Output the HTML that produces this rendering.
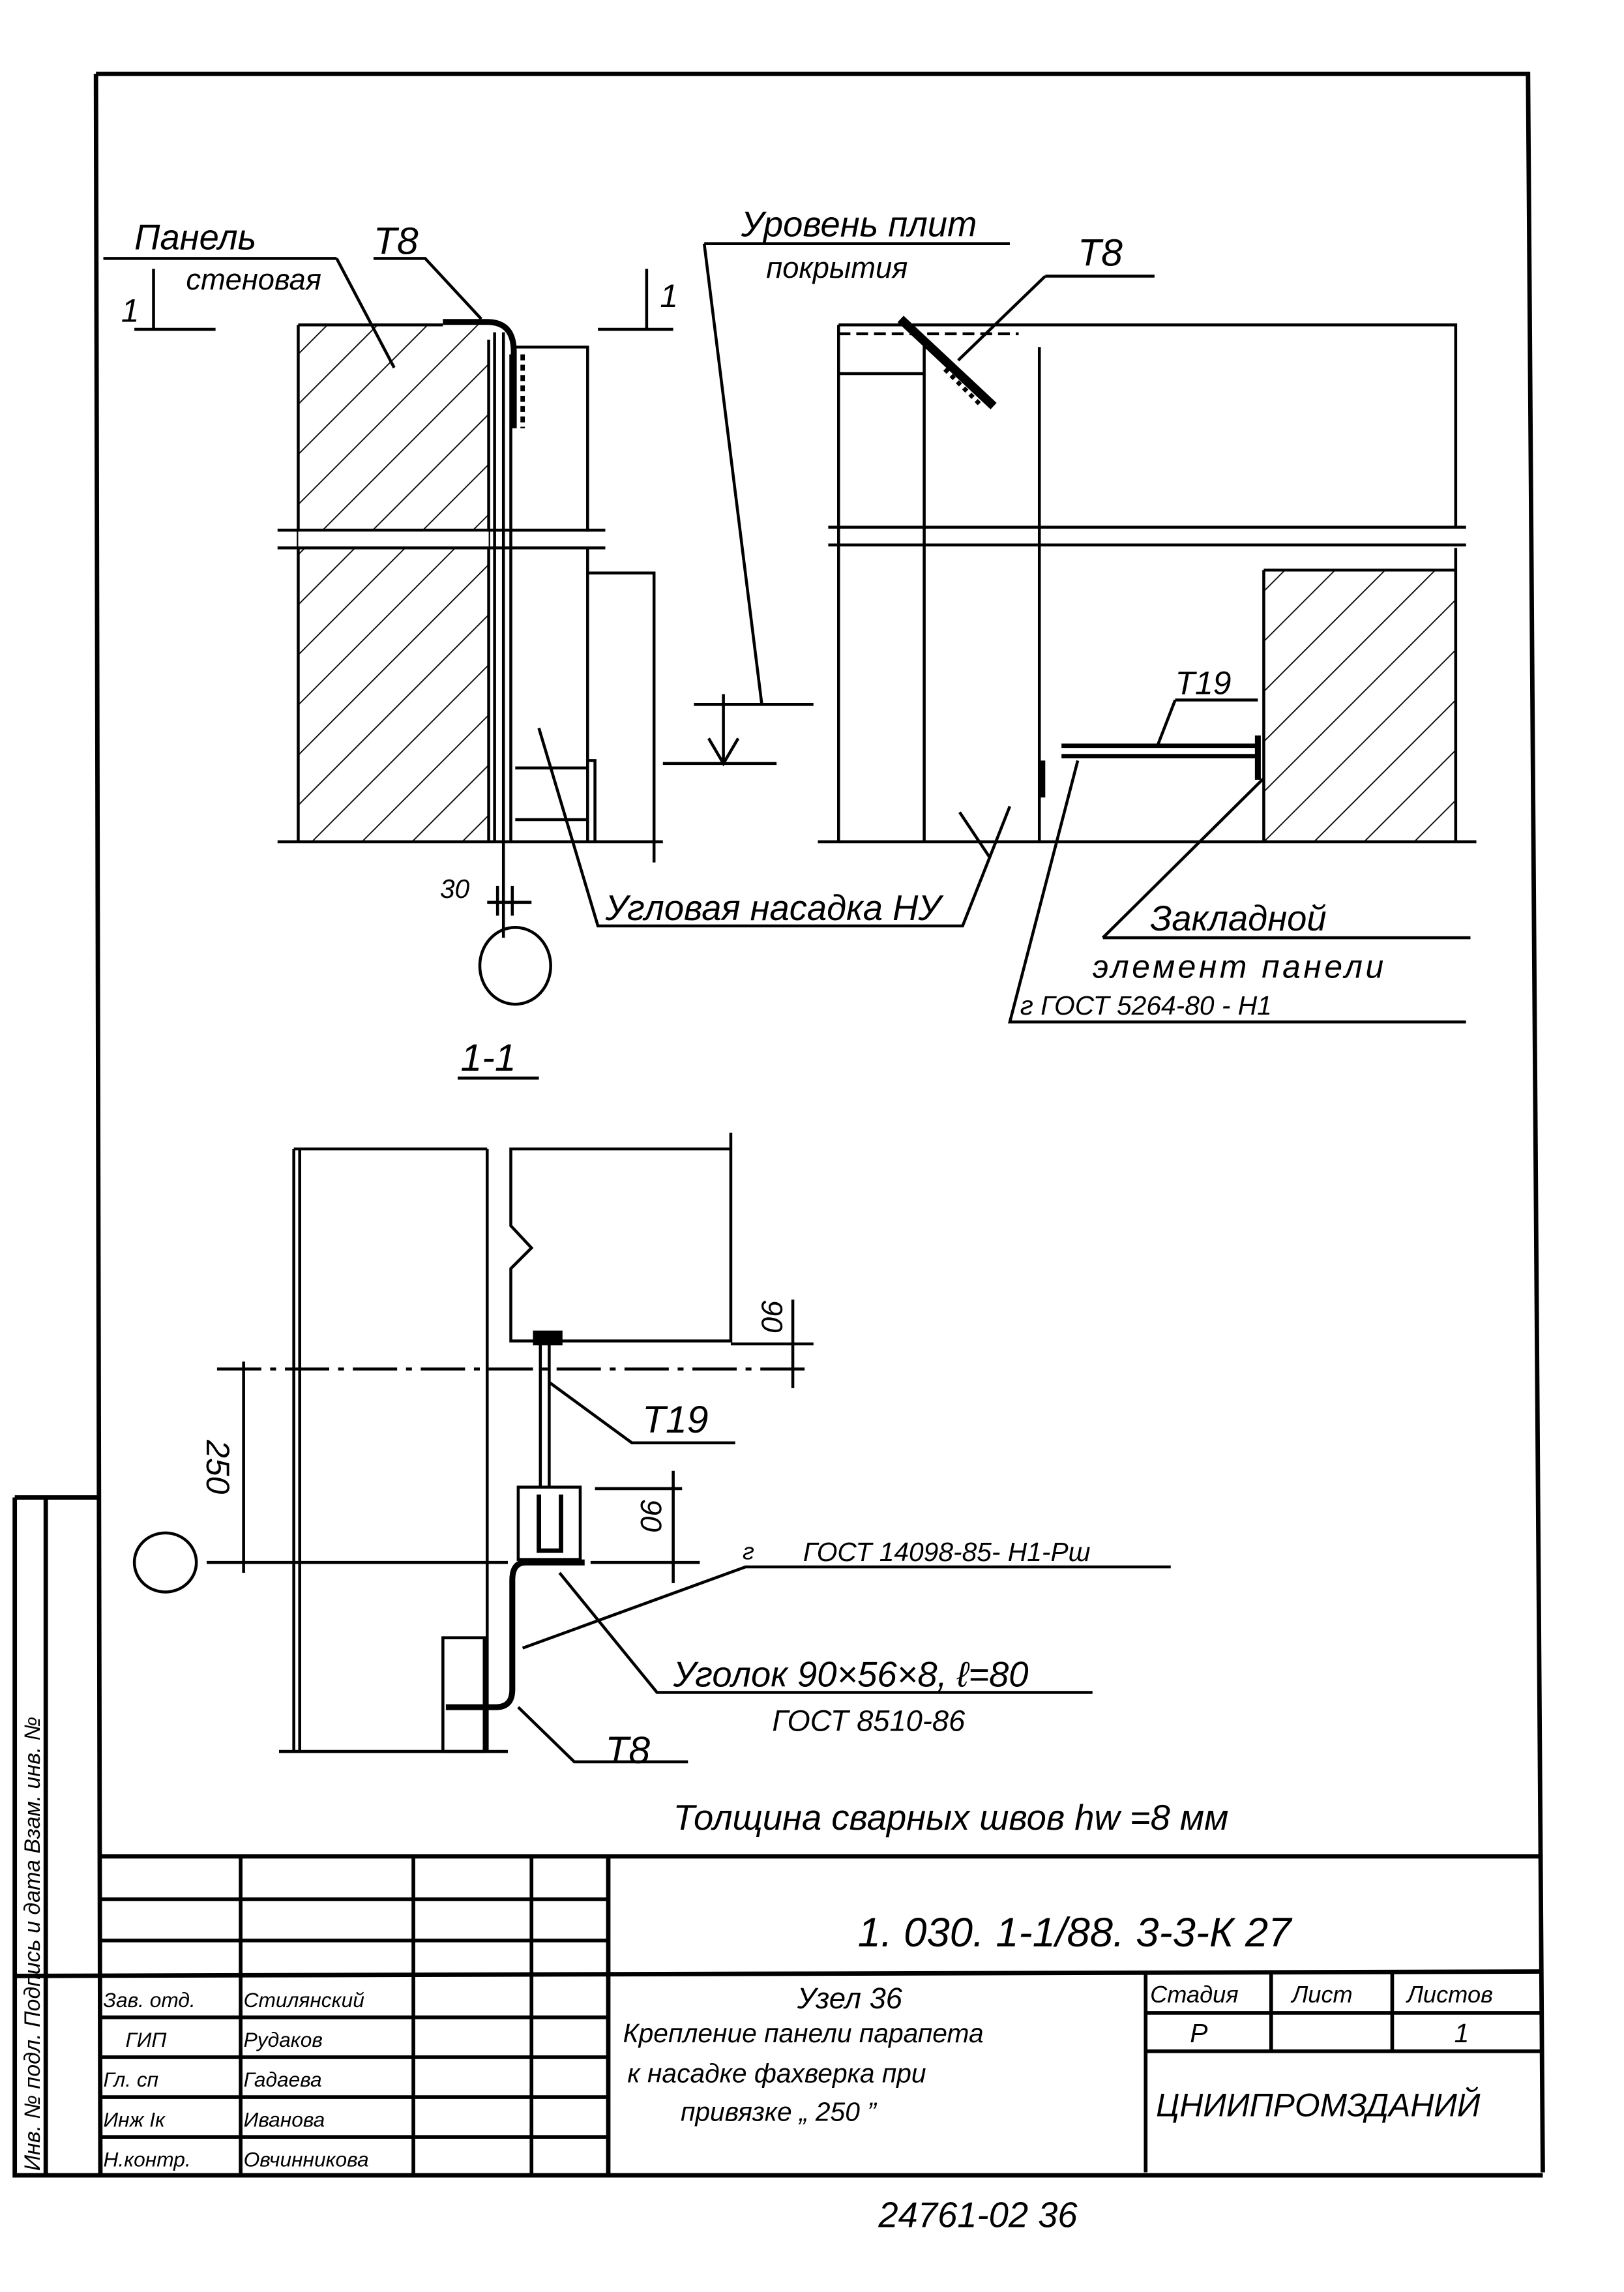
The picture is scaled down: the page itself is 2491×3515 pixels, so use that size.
<!DOCTYPE html>
<html><head><meta charset="utf-8"><style>
html,body{margin:0;padding:0;background:#fff}
svg{display:block}
text{font-family:"Liberation Sans","DejaVu Sans",sans-serif;font-style:italic;fill:#000}
</style></head><body>
<svg width="2491" height="3515" viewBox="0 0 1100 1552" preserveAspectRatio="none" xmlns="http://www.w3.org/2000/svg">
<defs>
<pattern id="h" patternUnits="userSpaceOnUse" width="24" height="24" patternTransform="rotate(45)">
<line x1="0" y1="0" x2="0" y2="24" stroke="#000" stroke-width="1.6"/>
</pattern>
</defs>
<g stroke="#000" fill="none" stroke-width="2">
<!-- frame -->
<path d="M65 50 H1035 L1045 1471 M65 50 L68 1473 H1045" stroke-width="3"/>
<path d="M10 1014 V1473 H68 M10 1014 H68" stroke-width="3"/>
<line x1="31" y1="1014" x2="31" y2="1473" stroke-width="3"/>
<!-- title block -->
<line x1="68" y1="1257" x2="1045" y2="1257" stroke-width="3"/>
<line x1="68" y1="1286" x2="412" y2="1286" stroke-width="2.5"/>
<line x1="68" y1="1314" x2="412" y2="1314" stroke-width="2.5"/>
<line x1="10" y1="1338" x2="1045" y2="1335" stroke-width="3"/>
<line x1="68" y1="1366" x2="412" y2="1366" stroke-width="2.5"/>
<line x1="68" y1="1393" x2="412" y2="1393" stroke-width="2.5"/>
<line x1="68" y1="1420" x2="412" y2="1420" stroke-width="2.5"/>
<line x1="68" y1="1447" x2="412" y2="1447" stroke-width="2.5"/>
<line x1="163" y1="1257" x2="163" y2="1473" stroke-width="2.5"/>
<line x1="280" y1="1257" x2="280" y2="1473" stroke-width="2.5"/>
<line x1="360" y1="1257" x2="360" y2="1473" stroke-width="2.5"/>
<line x1="412" y1="1257" x2="412" y2="1473" stroke-width="3"/>
<line x1="776" y1="1335" x2="776" y2="1471" stroke-width="2.5"/>
<line x1="776" y1="1363" x2="1045" y2="1363" stroke-width="2.5"/>
<line x1="776" y1="1389" x2="1045" y2="1389" stroke-width="2.5"/>
<line x1="861" y1="1335" x2="861" y2="1389" stroke-width="2.5"/>
<line x1="943" y1="1335" x2="943" y2="1389" stroke-width="2.5"/>

<!-- TOP LEFT -->
<rect x="202" y="220" width="129" height="350" fill="url(#h)" stroke="none"/>
<path d="M202 220 V570 M202 220 H300 M331 230 V570 M188 570 H449"/>
<path d="M188 359 H410 M188 371 H410"/>
<rect x="202" y="360" width="129" height="10" fill="#fff" stroke="none"/>
<path d="M335 225 V570 M341 225 V570 M346 240 V570 M349 235 H398 V360 M398 371 V570"/>
<path d="M398 388 H443 V584 M349 520 H398 M349 555 H398 M398 515 H403 V570"/>
<path d="M300 218 H330 Q348 218 348 238 V290" stroke-width="4"/>
<path d="M354 240 V290" stroke-width="3" stroke-dasharray="4 3"/>
<path d="M91 223 H146 M104 182 V222 M405 223 H456 M438 182 V222"/>
<path d="M70 175 H228 M228 175 L267 249 M253 175 H288 L326 216"/>
<path d="M330 611 H360 M337 600 V620 M347 600 V620 M341 570 V635"/>
<ellipse cx="349" cy="654" rx="24" ry="26"/>
<path d="M310 730 H365"/>
<path d="M365 493 L405 627 H652 L684 546"/>
<!-- level mark -->
<path d="M477 165 H684 M477 165 L516 477 M470 477 H551 M490 470 V517 M449 517 H526 M480 500 L490 517 L500 500"/>
<!-- TOP RIGHT -->
<path d="M568 220 V570 M568 220 H986 V357 M986 371 V570 M626 230 V570 M704 235 V570 M568 253 H626"/>
<path d="M568 226 H690" stroke-dasharray="8 4"/>
<path d="M561 357 H993 M561 369 H993"/>
<rect x="856" y="386" width="130" height="184" fill="url(#h)" stroke="none"/>
<path d="M856 386 H986 M856 386 V570 M554 570 H1000"/>
<path d="M610 216 L673 275" stroke-width="6"/>
<path d="M640 250 L665 275" stroke-width="3" stroke-dasharray="3 3"/>
<path d="M719 505 H852 M719 512 H852" stroke-width="3"/>
<path d="M706 515 V540 M852 498 V528" stroke-width="4"/>
<path d="M708 187 H782 M708 187 L649 244"/>
<path d="M796 474 H852 M796 474 L784 505"/>
<path d="M747 635 L856 527 M747 635 H996 M730 515 L684 692 H993"/>
<path d="M650 550 L670 580"/>
<!-- BOTTOM -->
<path d="M199 778 V1186 M203 778 V1186 M330 778 V1186 M199 778 H330 M189 1186 H344"/>
<path d="M346 778 H495 V908 H346 V859 L360 845 L346 830 Z M495 767 V778"/>
<line x1="147" y1="927" x2="551" y2="927" stroke-dasharray="30 6 4 6"/>
<path d="M165 922 V1065 M140 1058 H344 M495 910 H551 M537 880 V940"/>
<ellipse cx="112" cy="1058" rx="21" ry="20"/>
<path d="M366 910 V1007 M372 910 V1007" stroke-width="2"/>
<rect x="362" y="902" width="18" height="8" fill="#000"/>
<rect x="351" y="1007" width="42" height="49"/>
<path d="M365 1012 V1050 H380 V1012" stroke-width="3"/>
<path d="M396 1058 H356 Q347 1058 347 1070 V1144 Q347 1156 336 1156 H302" stroke-width="4"/>
<path d="M300 1109 H328 V1186 H300 Z"/>
<path d="M403 1008 H462 M400 1058 H474 M456 996 V1072"/>
<path d="M372 936 L428 977 H498 M379 1065 L445 1146 H740 M351 1156 L389 1193 H466 M354 1116 L505 1061 H793"/>
</g>
<!-- text -->
<g>
<text x="91" y="169" font-size="24">Панель</text>
<text x="126" y="196" font-size="20">стеновая</text>
<text x="82" y="218" font-size="22">1</text>
<text x="253" y="172" font-size="26">Т8</text>
<text x="447" y="208" font-size="22">1</text>
<text x="502" y="160" font-size="24">Уровень плит</text>
<text x="519" y="188" font-size="20">покрытия</text>
<text x="730" y="180" font-size="26">Т8</text>
<text x="796" y="470" font-size="22">Т19</text>
<text x="298" y="608" font-size="18">30</text>
<text x="410" y="623" font-size="24">Угловая насадка НУ</text>
<text x="312" y="725" font-size="26">1-1</text>
<text x="779" y="630" font-size="24">Закладной</text>
<text x="740" y="662" font-size="22" letter-spacing="2">элемент панели</text>
<text x="691" y="687" font-size="18">г  ГОСТ 5264-80 - Н1</text>
<text x="0" y="0" font-size="20" transform="translate(516 880) rotate(90)">90</text>
<text x="435" y="970" font-size="26">Т19</text>
<text x="0" y="0" font-size="22" transform="translate(140 975) rotate(90)">250</text>
<text x="0" y="0" font-size="20" transform="translate(434 1015) rotate(90)">90</text>
<text x="503" y="1056" font-size="16">г</text>
<text x="544" y="1057" font-size="18">ГОСТ 14098-85- Н1-Рш</text>
<text x="456" y="1142" font-size="24">Уголок 90×56×8, ℓ=80</text>
<text x="523" y="1172" font-size="20">ГОСТ 8510-86</text>
<text x="410" y="1194" font-size="26">Т8</text>
<text x="456" y="1239" font-size="24">Толщина сварных швов  hw =8 мм</text>
<text x="581" y="1318" font-size="28">1. 030. 1-1/88.  3-3-К 27</text>
<text x="540" y="1360" font-size="20">Узел 36</text>
<text x="422" y="1383" font-size="18">Крепление панели парапета</text>
<text x="425" y="1410" font-size="18">к насадке фахверка при</text>
<text x="461" y="1436" font-size="18">привязке „ 250 ”</text>
<text x="779" y="1356" font-size="16">Стадия</text>
<text x="875" y="1356" font-size="16">Лист</text>
<text x="953" y="1356" font-size="16">Листов</text>
<text x="806" y="1383" font-size="18">Р</text>
<text x="985" y="1383" font-size="18">1</text>
<text x="783" y="1433" font-size="22">ЦНИИПРОМЗДАНИЙ</text>
<g font-size="14">
<text x="70" y="1359">Зав. отд.</text><text x="165" y="1359">Стилянский</text>
<text x="85" y="1386">ГИП</text><text x="165" y="1386">Рудаков</text>
<text x="70" y="1413">Гл. сп</text><text x="165" y="1413">Гадаева</text>
<text x="70" y="1440">Инж Iк</text><text x="165" y="1440">Иванова</text>
<text x="70" y="1467">Н.контр.</text><text x="165" y="1467">Овчинникова</text>
</g>
<text x="595" y="1508" font-size="24">24761-02   36</text>
<text x="0" y="0" font-size="15" transform="translate(27 1470) rotate(-90)">Инв. № подл.   Подпись и дата   Взам. инв. №</text>
</g>
</svg>
</body></html>
